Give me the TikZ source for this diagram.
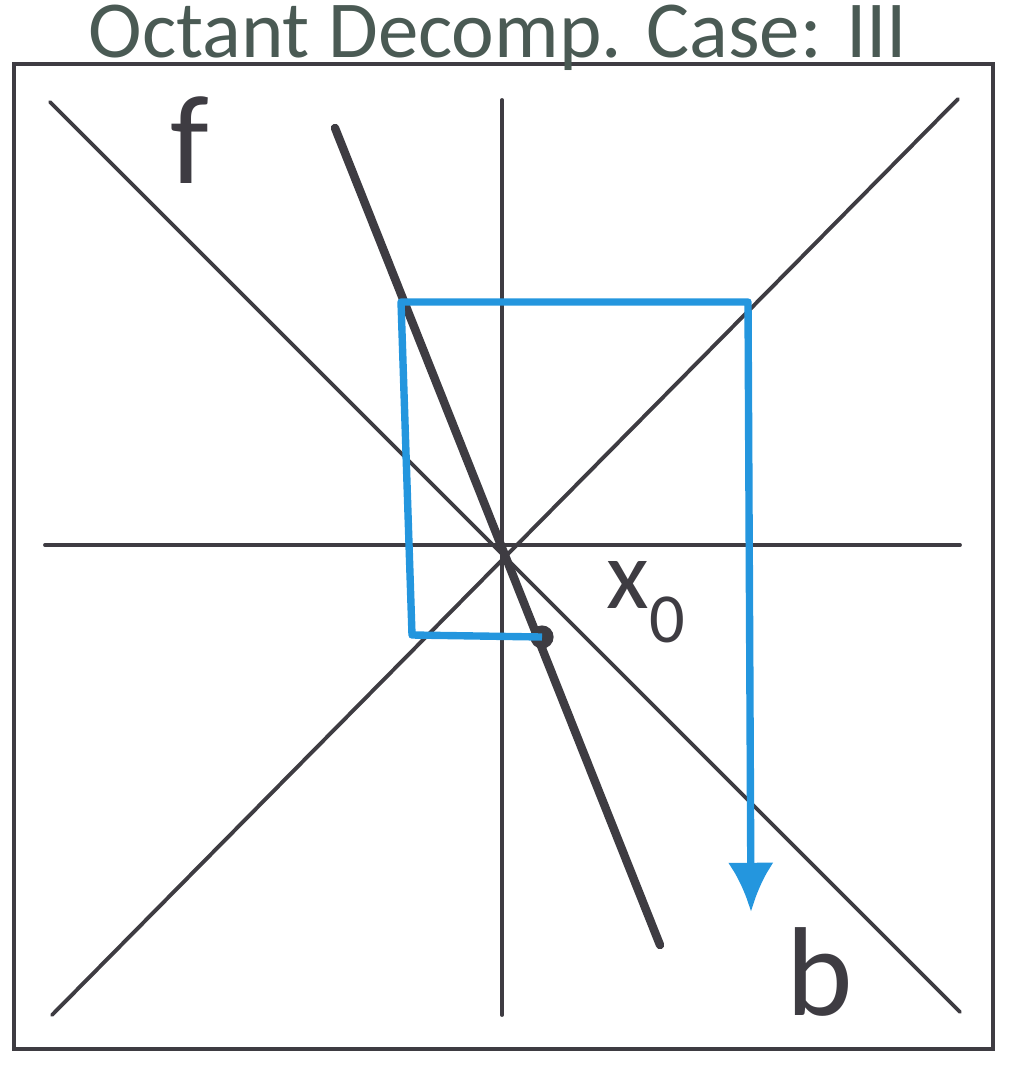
\documentclass[tikz,border=0pt]{standalone}
\usepackage{fontspec}
\setmainfont{Carlito}
\usetikzlibrary{arrows.meta}

\definecolor{pengray}{RGB}{62,60,66}
\definecolor{penblue}{RGB}{36,150,222}
\definecolor{titlegray}{RGB}{74,90,84}

\tikzset{
	guide/.style={pengray, line width=1.1pt, line cap=round},
	fline/.style={pengray, line width=2.4pt, line cap=round},
	bpath/.style={penblue, line width=2.1pt, line join=round},
	hand/.style={pengray, font=\fontsize{36}{36}\selectfont},
}

\begin{document}
\begin{tikzpicture}[x=0.01cm,y=-0.01cm]
		\useasboundingbox (0,0) rectangle (1017,1070);
		
		% frame and title
		\draw[guide] (14,64) rectangle (993,1049);
		\node[titlegray, anchor=base, font=\fontsize{23}{23}\selectfont] (title) at (498,58) {Octant Decomp. Case: III};
		
		% octant lines
		\coordinate (O) at (503,545);
		\coordinate (NW) at (50,102);
		\coordinate (SE) at (960,1012);
		\coordinate (NE) at (958,99);
		\coordinate (SW) at (52,1015);
		\coordinate (N) at (502,100);
		\coordinate (S) at (502,1015);
		\coordinate (W) at (45,545);
		\coordinate (E) at (960,545);
		\draw[guide] (NW) -- (SE);
		\draw[guide] (NE) -- (SW);
		\draw[guide] (N) -- (S);
		\draw[guide] (W) -- (E);
		
		% line f through the centre
		\coordinate (Ftop) at (335,128);
		\coordinate (Fbot) at (660,945);
		\draw[fline] (Ftop) -- (Fbot);
		\node[hand] (f) at (190,140) {f};
		
		% start point x_0 on f
		\coordinate (X0) at (542,637);
		\fill[pengray] (X0) circle (3.3pt);
		\node[hand, font=\fontsize{28}{28}\selectfont, anchor=base west] (x0) at (594,608) {x\raisebox{-0.35em}{\fontsize{20}{20}\selectfont 0}};
		
		% blue path to b
		\coordinate (Bl) at (412,635);
		\coordinate (Tl) at (401,302);
		\coordinate (Tr) at (748,302);
		\coordinate (Bend) at (751,912);
		\draw[bpath, -{Latex[length=14pt,width=13pt]}] (X0) -- (Bl) -- (Tl) -- (Tr) -- (Bend);
		\node[hand] (b) at (820,972) {b};
	\end{tikzpicture}
\end{document}
